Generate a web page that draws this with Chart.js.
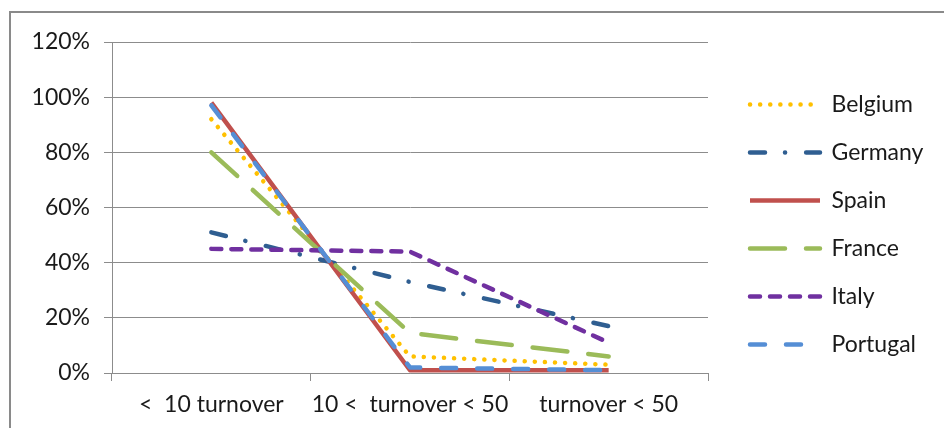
<!DOCTYPE html>
<html>
<head>
<meta charset="utf-8">
<script src="https://cdn.jsdelivr.net/npm/chart.js@4"></script>
<style>
  body { margin: 0; background: #fff; }
  #wrap { position: relative; width: 944px; height: 428px; overflow: hidden; }
  #frame { position: absolute; left: 9px; top: 11px; width: 1000px; height: 500px;
           border-left: 2px solid #8a8a8a; border-top: 2px solid #8a8a8a; }
  #chart { position: absolute; left: 0; top: 0; }
</style>
</head>
<body>
<div id="wrap">
  <div id="frame"></div>
  <canvas id="chart" width="944" height="428"></canvas>
</div>
<script>
const categories = ['<  10 turnover', '10 <  turnover < 50', 'turnover < 50'];

const belgium  = [0.92, 0.06, 0.03];
const germany  = [0.51, 0.33, 0.17];
const spain    = [0.98, 0.01, 0.01];
const france   = [0.80, 0.145, 0.06];
const italy    = [0.45, 0.44, 0.11];
const portugal = [0.97, 0.02, 0.01];

const seriesNames = ['Belgium', 'Germany', 'Spain', 'France', 'Italy', 'Portugal'];
const seriesColors = ['#FFC000', '#2F5E91', '#C0504D', '#9BBB59', '#7030A0', '#558ED5'];
const seriesDash = [[0.1, 10], [15, 20, 0.1, 21], [], [35, 21], [10, 10], [15, 21]];
const seriesValues = [belgium, germany, spain, france, italy, portugal];

const gridColor = '#8c8c8c';
const textColor = '#1a1a1a';
const fontFamily = 'Lato, "Liberation Sans", sans-serif';
const lineWidth = 4.5;

// chart area: left 112, right 708, top 42, bottom 373
const plotRight = 708;

const legendPlace = {
    id: 'legendPlace',
    beforeLayout(chart) {
        const lg = chart.legend;
        if (lg && !lg._patched) {
            const fit = lg.fit.bind(lg);
            lg.fit = function () {
                fit();
                this.width = chart.width - plotRight;
            };
            lg._patched = true;
        }
    },
    afterLayout(chart) {
        const lg = chart.legend;
        lg.left += 17;
        lg.right += 17;
        lg.top += 17;
        lg.bottom += 17;
    }
};

const datasets = seriesNames.map((name, i) => ({
    label: name,
    data: seriesValues[i],
    borderColor: seriesColors[i],
    backgroundColor: seriesColors[i],
    borderWidth: lineWidth,
    borderDash: seriesDash[i],
    borderCapStyle: seriesDash[i].length ? 'round' : 'butt',
    borderJoinStyle: 'round',
    pointRadius: 0,
    pointHoverRadius: 0,
    tension: 0,
    order: seriesNames.length - i
}));

function legendLabels(chart) {
    const items = Chart.defaults.plugins.legend.labels.generateLabels(chart);
    items.forEach(item => {
        const ds = chart.data.datasets[item.datasetIndex];
        item.lineDash = ds.borderDash;
        item.lineCap = ds.borderCapStyle;
        item.lineWidth = ds.borderWidth;
        item.strokeStyle = ds.borderColor;
        item.fillStyle = ds.borderColor;
    });
    return items;
}

const ctx = document.getElementById('chart').getContext('2d');

const chart = new Chart(ctx, {
    type: 'line',
    data: {
        labels: categories,
        datasets: datasets
    },
    plugins: [legendPlace],
    options: {
        responsive: false,
        animation: false,
        devicePixelRatio: 1,
        layout: { padding: { top: 42, left: 0, right: 0, bottom: 0 } },
        plugins: {
            tooltip: { enabled: false },
            legend: {
                position: 'right',
                fullSize: false,
                labels: {
                    usePointStyle: true,
                    pointStyle: 'line',
                    pointStyleWidth: 70,
                    padding: 25,
                    color: textColor,
                    font: { family: fontFamily, size: 23 },
                    generateLabels: legendLabels,
                    sort: (a, b) => a.datasetIndex - b.datasetIndex
                }
            }
        },
        scales: {
            x: {
                offset: true,
                grid: {
                    offset: true,
                    drawOnChartArea: false,
                    drawTicks: true,
                    tickLength: 8,
                    color: gridColor
                },
                border: { color: gridColor, width: 1 },
                ticks: {
                    autoSkip: false,
                    padding: 10,
                    color: textColor,
                    font: { family: fontFamily, size: 23 },
                    maxRotation: 0
                },
                afterFit(scale) { scale.height = 55; }
            },
            y: {
                min: 0,
                max: 1.2,
                grid: {
                    color: gridColor,
                    drawTicks: true,
                    tickLength: 8
                },
                border: { color: gridColor, width: 1 },
                ticks: {
                    stepSize: 0.2,
                    padding: 14,
                    color: textColor,
                    font: { family: fontFamily, size: 23 },
                    callback: (v) => Math.round(v * 100) + '%'
                },
                afterFit(scale) { scale.width = 112; }
            }
        }
    }
});
</script>
</body>
</html>
